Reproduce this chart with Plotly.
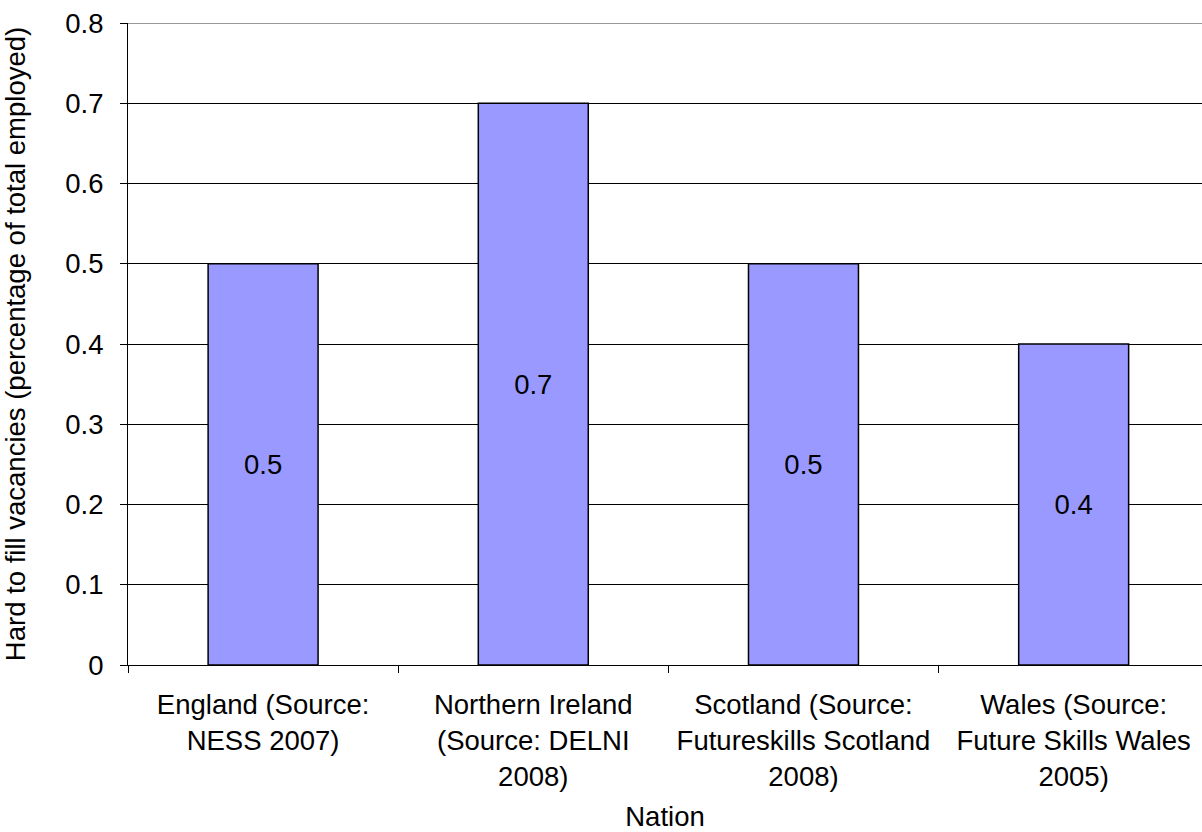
import plotly.graph_objects as go

categories = [
    "England (Source:<br>NESS 2007)",
    "Northern Ireland<br>(Source: DELNI<br>2008)",
    "Scotland (Source:<br>Futureskills Scotland<br>2008)",
    "Wales (Source:<br>Future Skills Wales<br>2005)",
]
values = [0.5, 0.7, 0.5, 0.4]
value_labels = ["0.5", "0.7", "0.5", "0.4"]
y_ticks = [0, 0.1, 0.2, 0.3, 0.4, 0.5, 0.6, 0.7, 0.8]
y_tick_labels = ["0", "0.1", "0.2", "0.3", "0.4", "0.5", "0.6", "0.7", "0.8"]

FONT = "Liberation Sans, Arial, sans-serif"
FS = 27.5

fig = go.Figure()
fig.add_trace(go.Bar(
    x=categories,
    y=values,
    text=value_labels,
    textposition="inside",
    insidetextanchor="middle",
    textangle=0,
    constraintext="none",
    textfont=dict(family=FONT, size=FS, color="black"),
    marker=dict(color="#9999FF", line=dict(color="black", width=1.5)),
    hoverinfo="skip",
))

fig.add_shape(type="line", xref="paper", yref="y", x0=0, x1=1, y0=0.8, y1=0.8,
              line=dict(color="#999999", width=2), layer="above")

fig.update_layout(
    width=1202, height=832,
    margin=dict(l=128, r=0, t=23, b=167),
    paper_bgcolor="white", plot_bgcolor="white",
    bargap=0.593,
    showlegend=False,
    font=dict(family=FONT, size=FS, color="black"),
    xaxis=dict(
        range=[-0.5, 3.475],
        showline=True, linecolor="black", linewidth=1,
        ticks="outside", tickson="boundaries", ticklen=7, tickcolor="black",
        showgrid=False, zeroline=False,
        ticklabelstandoff=15,
        tickfont=dict(family=FONT, size=FS, color="black"),
        title=dict(text="Nation", font=dict(family=FONT, size=FS, color="black"), standoff=20),
    ),
    yaxis=dict(
        range=[0, 0.8],
        tickvals=y_ticks, ticktext=y_tick_labels,
        showline=True, linecolor="black", linewidth=1,
        ticks="outside", ticklen=7, tickcolor="black",
        showgrid=True, gridcolor="black", gridwidth=1,
        zeroline=False,
        ticklabelstandoff=11,
        tickfont=dict(family=FONT, size=FS, color="black"),
        title=dict(text="Hard to fill vacancies (percentage of total employed)",
                   font=dict(family=FONT, size=FS, color="black"), standoff=31),
    ),
)

fig.write_html("out.html")
